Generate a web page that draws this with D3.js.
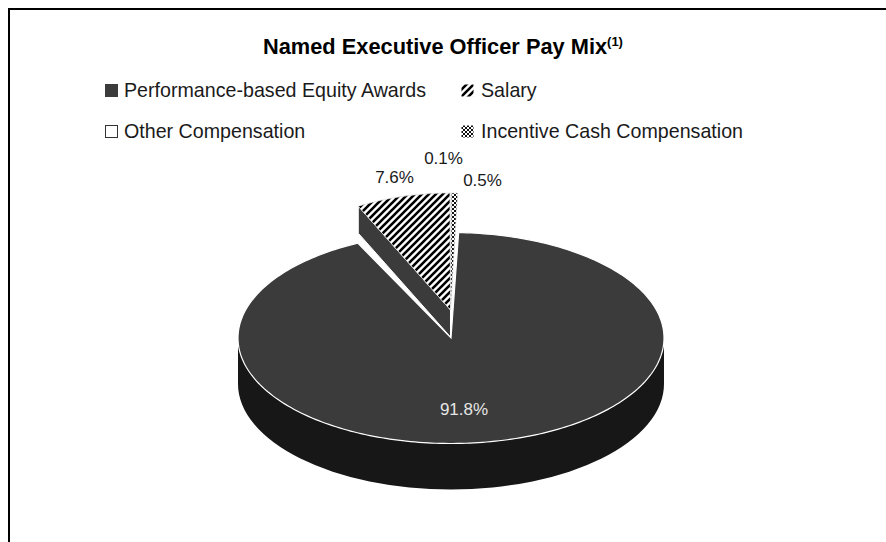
<!DOCTYPE html>
<html><head><meta charset="utf-8">
<script src="https://cdn.jsdelivr.net/npm/d3@7/dist/d3.min.js"></script>
<style>html,body{margin:0;padding:0;background:#fff}svg{display:block}text{font-family:"Liberation Sans",Arial,sans-serif}</style>
</head><body><svg id="c" width="886" height="542"></svg>
<script>
const categories = ["Performance-based Equity Awards","Salary","Other Compensation","Incentive Cash Compensation"];
const values = [91.8,7.6,0.1,0.5];
const labels = ["91.8%","7.6%","0.1%","0.5%"];
const title = "Named Executive Officer Pay Mix";
const titleNote = "(1)";

const svg = d3.select("#c");
const defs = svg.append("defs");
const hatch = defs.append("pattern").attr("id","hatch").attr("patternUnits","userSpaceOnUse")
  .attr("width",7).attr("height",7);
hatch.append("rect").attr("width",7).attr("height",7).attr("fill","#fff");
hatch.append("path").attr("d","M-1.75,1.75L1.75,-1.75M-1.75,8.75L8.75,-1.75M5.25,8.75L8.75,5.25").attr("stroke","#000").attr("stroke-width",2.6);
const dots = defs.append("pattern").attr("id","dots").attr("patternUnits","userSpaceOnUse")
  .attr("width",4).attr("height",4);
dots.append("rect").attr("width",4).attr("height",4).attr("fill","#fff");
dots.append("rect").attr("width",2).attr("height",2).attr("fill","#111");
dots.append("rect").attr("x",2).attr("y",2).attr("width",2).attr("height",2).attr("fill","#111");
const fills = ["#3b3b3b","url(#hatch)","#fff","url(#dots)"];

svg.append("path").attr("d","M9,542V9H886").attr("fill","none").attr("stroke","#000").attr("stroke-width",2);

const t = svg.append("text").attr("x",263).attr("y",54).attr("text-anchor","start")
  .attr("font-size",21.8).attr("font-weight","bold").attr("fill","#000");
t.append("tspan").text(title);
t.append("tspan").attr("font-size",13).attr("dy",-8).text(titleNote);

const legendX = d3.scaleOrdinal().domain(categories).range([105,461,105,461]);
const legendY = d3.scaleOrdinal().domain(categories).range([90,90,131,131]);
const lg = svg.append("g").selectAll("g").data(categories).join("g")
  .attr("transform",d=>`translate(${legendX(d)},${legendY(d)})`);
lg.append("rect").attr("x",0.5).attr("y",-5.5).attr("width",12).attr("height",12)
  .attr("fill",(d,i)=>fills[i]).attr("stroke",(d,i)=>i==0?"#3b3b3b":i==2?"#333":"none");
lg.append("text").attr("x",(d,i)=>i%2?20:19).attr("y",6.8).attr("font-size",19.65).attr("fill","#1a1a1a").text(d=>d);

const pie = d3.pie().sort(null).startAngle(2.06*Math.PI/180).endAngle((360+2.06)*Math.PI/180);
const arcs = pie(values);
const cx=451, cy=338, rx=213, ry=105.5, depth=46;
const ex=450.5, ey=310, erx=200, ery=117, edepth=27;
const cutOverlap = 1.5*Math.PI/180;

const onEllipse = (a,rx_,ry_,x0,y0)=>[x0+rx_*Math.sin(a), y0-ry_*Math.cos(a)];
const line = d3.line();
// Elliptical slice, sampled so pattern fills stay in page units
function slicePath(a0,a1,rx_,ry_,x0,y0){
  const n = Math.max(2,Math.ceil((a1-a0)/0.02));
  const pts = d3.range(n+1).map(i=>onEllipse(a0+(a1-a0)*i/n,rx_,ry_,x0,y0));
  return line([[x0,y0],...pts])+"Z";
}

// main side wall
svg.append("path").attr("d",`M${cx-rx},${cy}A${rx},${ry} 0 0 0 ${cx+rx},${cy}L${cx+rx},${cy+depth}A${rx},${ry} 0 0 1 ${cx-rx},${cy+depth}Z`)
  .attr("fill","#171717");

// main top slice
svg.append("path").attr("d",slicePath(arcs[0].startAngle,arcs[0].endAngle+cutOverlap,rx,ry,cx,cy))
  .attr("fill",fills[0]).attr("stroke","#fff").attr("stroke-width",1.2);

// exploded wedge side face
const a0=arcs[1].startAngle;
const pL=onEllipse(a0,erx,ery,ex,ey);
svg.append("path").attr("d",line([pL,[ex,ey],[ex,ey+edepth],[pL[0],pL[1]+edepth]])+"Z")
  .attr("fill","#3b3b3b").attr("stroke","#fff").attr("stroke-width",1);
// exploded wedge tops
svg.append("g").selectAll("path").data(arcs.slice(1)).join("path")
  .attr("d",d=>slicePath(d.startAngle,d.endAngle,erx,ery,ex,ey))
  .attr("fill",(d,i)=>fills[i+1]).attr("stroke","#ddd").attr("stroke-width",0.7);

const labelX = d3.scaleOrdinal().domain(labels).range([464,394.5,443.5,482.5]);
const labelY = d3.scaleOrdinal().domain(labels).range([415,183,164,186]);
svg.append("g").selectAll("text").data(labels).join("text")
  .attr("x",d=>labelX(d)).attr("y",d=>labelY(d)).attr("text-anchor","middle")
  .attr("font-size",17).attr("fill",(d,i)=>i==0?"#e6e6e6":"#1a1a1a").text(d=>d);
</script></body></html>
